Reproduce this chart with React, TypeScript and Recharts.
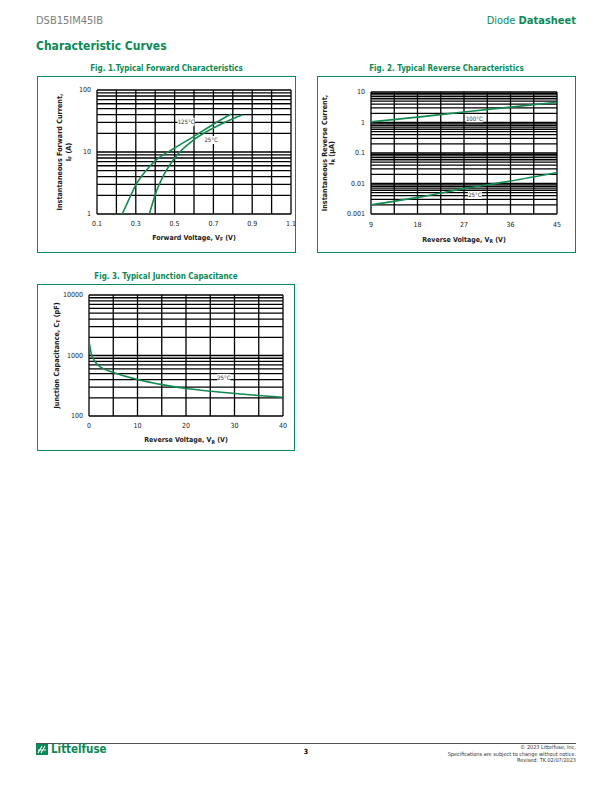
import { LineChart, Line, XAxis, YAxis, CartesianGrid, ReferenceDot } from "recharts";

const FONT = "'Liberation Sans Narrow', 'DejaVu Sans Condensed', 'Liberation Sans', sans-serif";
const GREEN = "#0a8a56";
const CURVE = "#138a50";
const INK = "#1c1c1c";

// Fig. 1 forward characteristics (V, A)
const FWD_125_V = [0.23, 0.26, 0.3, 0.35, 0.4, 0.5, 0.6, 0.7, 0.79];
const FWD_125_I = [1, 1.6, 2.95, 4.9, 7.2, 11.6, 17.9, 28, 41];
const FWD_25_V = [0.37, 0.4, 0.45, 0.5, 0.6, 0.7, 0.8, 0.85];
const FWD_25_I = [1, 2.05, 4.6, 8, 15.8, 24.4, 34.5, 40];
const FWD_X_TICKS = [0.1, 0.2, 0.3, 0.4, 0.5, 0.6, 0.7, 0.8, 0.9, 1.0, 1.1];
const FWD_X_LABELS = [0.1, 0.3, 0.5, 0.7, 0.9, 1.1];
const FWD_Y_LABELS = [1, 10, 100];

// Fig. 2 reverse characteristics (V, uA)
const REV_V = [9, 18, 27, 36, 45];
const REV_100 = [1.05, 1.5, 2.2, 3.2, 4.6];
const REV_25 = [0.002, 0.0035, 0.0068, 0.012, 0.023];
const REV_X_TICKS = [9, 13.5, 18, 22.5, 27, 31.5, 36, 40.5, 45];
const REV_X_LABELS = [9, 18, 27, 36, 45];
const REV_Y_LABELS = [0.001, 0.01, 0.1, 1, 10];

// Fig. 3 junction capacitance (V, pF)
const CAP_V = [0, 0.5, 1, 2, 3, 5, 10, 15, 20, 25, 30, 35, 40];
const CAP_PF = [1720, 1050, 845, 680, 600, 525, 400, 330, 285, 257, 236, 218, 204];
const CAP_X_TICKS = [0, 5, 10, 15, 20, 25, 30, 35, 40];
const CAP_X_LABELS = [0, 10, 20, 30, 40];
const CAP_Y_LABELS = [100, 1000, 10000];

// minor log grid: 1..9 in every decade
const logTicks = (lo: number, hi: number) => {
  const out: number[] = [];
  for (let e = lo; e < hi; e++) for (let m = 1; m < 10; m++) out.push(+(m * 10 ** e).toPrecision(3));
  out.push(+(10 ** hi).toPrecision(3));
  return out;
};

const pairs = (xs: number[], ys: number[]) => xs.map((x, k) => ({ x, y: ys[k] }));

const tag = (text: string, w: number) => (p: any) => (
  <g>
    <rect x={p.cx - w / 2} y={p.cy - 4} width={w} height={8} fill="#fff" />
    <text x={p.cx} y={p.cy + 2.2} textAnchor="middle" fontSize={6} fontFamily={FONT} fill="#333">
      {text}
    </text>
  </g>
);

const Sub = ({ main, sub, rest }: { main: string; sub: string; rest: string }) => (
  <>
    <tspan>{main}</tspan>
    <tspan fontSize={5} dy={1.8}>{sub}</tspan>
    <tspan dy={-1.8}>{rest}</tspan>
  </>
);

function Panel(props: any) {
  const { frame, title, margin, xDomain, xTicks, xLabels, yDomain, yTicks, yLabels, xTitle, yTitle, xTitleDy, tickMargin, series, tags } = props;
  return (
    <>
      <div
        style={{
          position: "absolute",
          left: frame.x + frame.w / 2 - 100,
          top: frame.y - 12,
          width: 200,
          textAlign: "center",
          color: GREEN,
          fontFamily: FONT,
          fontWeight: 700,
          fontSize: 8,
        }}
      >
        {title}
      </div>
      <div
        style={{
          position: "absolute",
          left: frame.x,
          top: frame.y,
          width: frame.w,
          height: frame.h,
          border: `1px solid ${GREEN}`,
          boxSizing: "border-box",
        }}
      />
      <div style={{ position: "absolute", left: frame.x, top: frame.y }}>
        <LineChart width={frame.w} height={frame.h} margin={margin}>
          <CartesianGrid stroke="#000" strokeWidth={1.3} />
          <XAxis
            dataKey="x"
            type="number"
            domain={xDomain}
            ticks={xTicks}
            interval={0}
            allowDataOverflow
            axisLine={false}
            tickLine={false}
            tickSize={4}
            tickMargin={tickMargin}
            height={20}
            tick={{ fontSize: 7, fill: INK, fontFamily: FONT }}
            tickFormatter={(v: number) => (xLabels.includes(v) ? String(v) : "")}
            label={{
              content: ({ viewBox }: any) => (
                <text
                  x={viewBox.x + viewBox.width / 2}
                  y={viewBox.y + xTitleDy}
                  textAnchor="middle"
                  fontSize={7}
                  fontWeight={700}
                  fontFamily={FONT}
                  fill={INK}
                >
                  {xTitle}
                </text>
              ),
            }}
          />
          <YAxis
            type="number"
            scale="log"
            domain={yDomain}
            ticks={yTicks}
            interval={0}
            allowDataOverflow
            axisLine={false}
            tickLine={false}
            tickSize={4}
            tickMargin={2}
            width={30}
            tick={{ fontSize: 7, fill: INK, fontFamily: FONT }}
            tickFormatter={(v: number) => (yLabels.includes(v) ? String(v) : "")}
            label={{
              content: ({ viewBox }: any) => {
                const cy = viewBox.y + viewBox.height / 2;
                const px = viewBox.x + viewBox.width;
                return (
                  <g>
                    {yTitle.map((ln: any, k: number) => (
                      <text
                        key={k}
                        x={px + ln.dx}
                        y={cy}
                        transform={`rotate(-90 ${px + ln.dx} ${cy})`}
                        textAnchor="middle"
                        dominantBaseline="central"
                        fontSize={7.2}
                        fontWeight={700}
                        fontFamily={FONT}
                        fill={INK}
                      >
                        {ln.text}
                      </text>
                    ))}
                  </g>
                );
              },
            }}
          />
          {series.map((d: any, k: number) => (
            <Line
              key={k}
              data={d}
              dataKey="y"
              type="monotone"
              stroke={CURVE}
              strokeWidth={1.6}
              dot={false}
              isAnimationActive={false}
            />
          ))}
          {tags.map((t: any, k: number) => (
            <ReferenceDot key={k} x={t.x} y={t.y} r={0} ifOverflow="visible" shape={tag(t.text, t.w)} />
          ))}
        </LineChart>
      </div>
    </>
  );
}

function Logo() {
  return (
    <div style={{ position: "absolute", left: 36, top: 744, display: "flex", alignItems: "center" }}>
      <svg width={12} height={11}>
        <rect width={12} height={11} fill={GREEN} />
        <path d="M2 9 L6 2 M5 9 L9 2 M2 6 L10 6" stroke="#fff" strokeWidth={1.1} fill="none" />
      </svg>
      <span
        style={{ marginLeft: 3, color: GREEN, fontFamily: FONT, fontWeight: 700, fontSize: 11.5, lineHeight: "11px" }}
      >
        Littelfuse
      </span>
    </div>
  );
}

export default function App() {
  return (
    <div
      style={{
        position: "absolute",
        left: 0,
        top: 0,
        width: 612,
        height: 792,
        background: "#fff",
        fontFamily: FONT,
      }}
    >
      <div style={{ position: "absolute", left: 36, top: 14, fontSize: 11, color: "#7d7d7d" }}>DSB15IM45IB</div>
      <div style={{ position: "absolute", right: 36, top: 14, fontSize: 11, color: GREEN }}>
        Diode <b>Datasheet</b>
      </div>
      <div style={{ position: "absolute", left: 36, top: 39, fontSize: 12, fontWeight: 700, color: GREEN }}>
        Characteristic Curves
      </div>

      <Panel
        frame={{ x: 37, y: 76, w: 259, h: 177 }}
        title="Fig. 1.Typical Forward Characteristics"
        margin={{ top: 14, right: 5, bottom: 19, left: 30 }}
        xDomain={[0.1, 1.1]}
        xTicks={FWD_X_TICKS}
        xLabels={FWD_X_LABELS}
        yDomain={[1, 100]}
        yTicks={logTicks(0, 2)}
        yLabels={FWD_Y_LABELS}
        tickMargin={3}
        xTitleDy={25.5}
        xTitle={<Sub main="Forward Voltage, V" sub="F" rest=" (V)" />}
        yTitle={[
          { dx: -37.5, text: "Instantaneous Forward Current," },
          { dx: -29, text: <Sub main="I" sub="F" rest=" (A)" /> },
        ]}
        series={[pairs(FWD_125_V, FWD_125_I), pairs(FWD_25_V, FWD_25_I)]}
        tags={[
          { x: 0.559, y: 30.8, text: "125°C", w: 17 },
          { x: 0.688, y: 15.6, text: "25°C", w: 14 },
        ]}
      />

      <Panel
        frame={{ x: 317, y: 76, w: 259, h: 177 }}
        title="Fig. 2. Typical Reverse Characteristics"
        margin={{ top: 16, right: 19, bottom: 19, left: 24 }}
        xDomain={[9, 45]}
        xTicks={REV_X_TICKS}
        xLabels={REV_X_LABELS}
        yDomain={[0.001, 10]}
        yTicks={logTicks(-3, 1)}
        yLabels={REV_Y_LABELS}
        tickMargin={4.5}
        xTitleDy={27.5}
        xTitle={<Sub main="Reverse Voltage, V" sub="R" rest=" (V)" />}
        yTitle={[
          { dx: -47, text: "Instantaneous Reverse Current," },
          { dx: -40, text: <Sub main="I" sub="R" rest=" (μA)" /> },
        ]}
        series={[pairs(REV_V, REV_100), pairs(REV_V, REV_25)]}
        tags={[
          { x: 29.0, y: 1.37, text: "100°C", w: 17 },
          { x: 29.1, y: 0.0042, text: "25°C", w: 14 },
        ]}
      />

      <Panel
        frame={{ x: 37, y: 284, w: 258, h: 167 }}
        title="Fig. 3. Typical Junction Capacitance"
        margin={{ top: 11, right: 12, bottom: 15, left: 22 }}
        xDomain={[0, 40]}
        xTicks={CAP_X_TICKS}
        xLabels={CAP_X_LABELS}
        yDomain={[100, 10000]}
        yTicks={logTicks(2, 4)}
        yLabels={CAP_Y_LABELS}
        tickMargin={3.5}
        xTitleDy={26}
        xTitle={<Sub main="Reverse Voltage, V" sub="R" rest=" (V)" />}
        yTitle={[{ dx: -33, text: <Sub main="Junction Capacitance, C" sub="T" rest=" (pF)" /> }]}
        series={[pairs(CAP_V, CAP_PF)]}
        tags={[{ x: 27.8, y: 427, text: "25°C", w: 13 }]}
      />

      <div style={{ position: "absolute", left: 36, top: 743, width: 540, height: 1, background: "#555" }} />
      <Logo />
      <div style={{ position: "absolute", left: 296, top: 748, width: 20, textAlign: "center", fontSize: 7, fontWeight: 700 }}>
        3
      </div>
      <div
        style={{
          position: "absolute",
          right: 36,
          top: 744,
          textAlign: "right",
          fontSize: 5.5,
          lineHeight: "6.5px",
          color: "#333",
        }}
      >
        © 2023 Littelfuse, Inc.
        <br />
        Specifications are subject to change without notice.
        <br />
        Revised: TK.02/07/2023
      </div>
    </div>
  );
}
